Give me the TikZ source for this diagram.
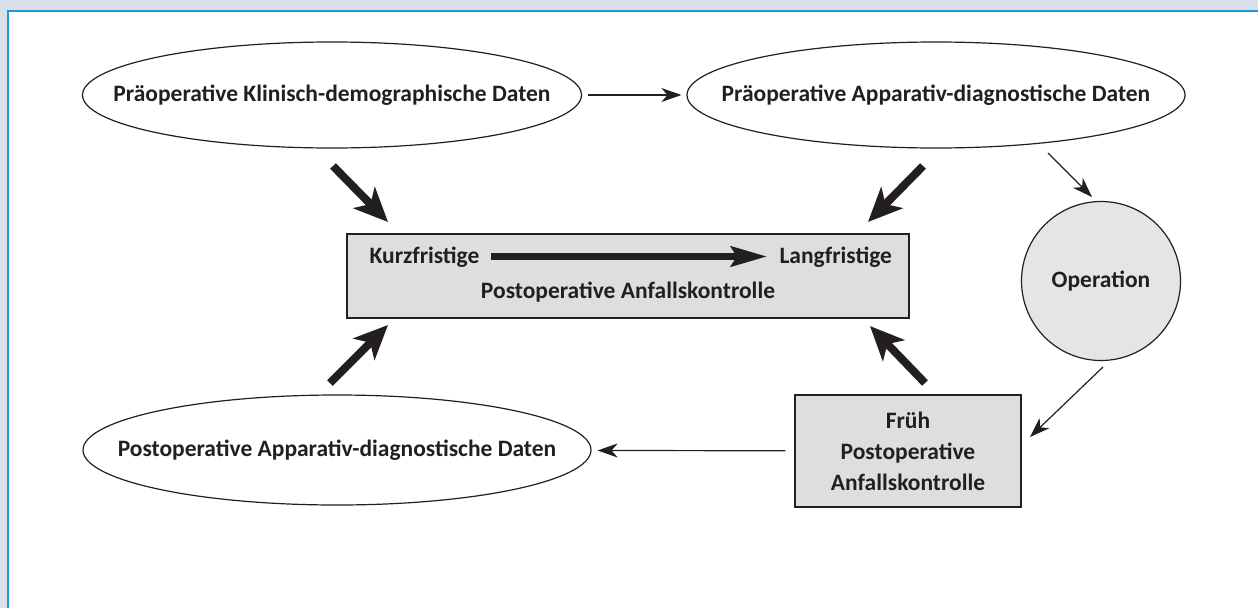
\documentclass[tikz,border=0pt]{standalone}
\usepackage{fontspec}
\setmainfont{Carlito}
\usepackage{tikz}
\usetikzlibrary{arrows.meta,shapes.geometric}
\definecolor{rahmen}{HTML}{1E96D8}
\definecolor{hinten}{HTML}{D9E0E9}
\definecolor{kastengrau}{HTML}{DDDEE0}
\definecolor{kreisgrau}{HTML}{E4E5E7}
\definecolor{schrift}{HTML}{231F20}

\begin{document}
\begin{tikzpicture}[x=1pt,y=-1pt,font=\fontsize{23.5}{31}\selectfont\bfseries,text=schrift,draw=schrift]
  \tikzstyle{daten}=[ellipse,draw,line width=1.2pt,inner xsep=-90pt,inner ysep=0pt]
  \tikzstyle{kasten}=[rectangle,draw,fill=kastengrau,line width=1.2pt,inner sep=0pt]
  \tikzstyle{duenn}=[-{Stealth[length=20pt,width=14pt,inset=6pt]},line width=1.2pt]
  \tikzstyle{dick}=[-{Stealth[length=34pt,width=30pt,inset=9pt]},line width=8pt]
  \useasboundingbox (0,0) rectangle (1258,608);

  % frame
  \fill[hinten] (0,0) rectangle (1258,608);
  \fill[white] (8,11) rectangle (1258,608);
  \draw[rahmen,line width=2pt] (8,608) -- (8,11) -- (1258,11);

  \node[daten,minimum width=499pt,minimum height=106pt] (kd) at (332,95) {Präoperative Klinisch-demographische Daten};
  \node[daten,minimum width=498pt,minimum height=106pt] (ad) at (936,95) {Präoperative Apparativ-diagnostische Daten};
  \node[daten,minimum width=508pt,minimum height=110pt] (pd) at (337,450) {Postoperative Apparativ-diagnostische Daten};

  \node[kasten,minimum width=562pt,minimum height=84pt] (ak) at (628,276) {};
  \node[anchor=west] (kurz) at (366,257) {Kurzfristige};
  \node[anchor=west] (lang) at (776,257) {Langfristige};
  \node (post) at (628,292) {Postoperative Anfallskontrolle};

  \node[circle,draw,fill=kreisgrau,line width=1.2pt,minimum size=159pt,inner sep=0pt] (op) at (1101,281) {Operation};
  \node[kasten,minimum width=226pt,minimum height=112pt,align=center] (fk) at (908,451) {Früh\\Postoperative\\Anfallskontrolle};

  % free ends
  \coordinate (ad-aus) at (1048,153);
  \coordinate (op-ein) at (1092,197);
  \coordinate (op-aus) at (1103,367);
  \coordinate (fk-ein) at (1030,437);
  \coordinate (k1) at (333,166);  \coordinate (z1) at (388,222);
  \coordinate (k2) at (923,166);  \coordinate (z2) at (868,222);
  \coordinate (k3) at (330,383);  \coordinate (z3) at (388,325);
  \coordinate (k4) at (925,383);  \coordinate (z4) at (870,326);
  \coordinate (kurz-aus) at (491,256.5);
  \coordinate (lang-ein) at (767,256.5);

  \path (kd) edge[duenn,shorten <=6pt,shorten >=5pt] (ad)
        (ad-aus) edge[duenn] (op-ein)
        (op-aus) edge[duenn] (fk-ein)
        (fk) edge[duenn,shorten <=9pt,shorten >=6pt] (pd);

  \path (k1) edge[dick] (z1)
        (k2) edge[dick] (z2)
        (k3) edge[dick] (z3)
        (k4) edge[dick] (z4);
  \path (kurz-aus) edge[-{Stealth[length=36pt,width=20pt,inset=6pt]},line width=7pt] (lang-ein);
\end{tikzpicture}
\end{document}
